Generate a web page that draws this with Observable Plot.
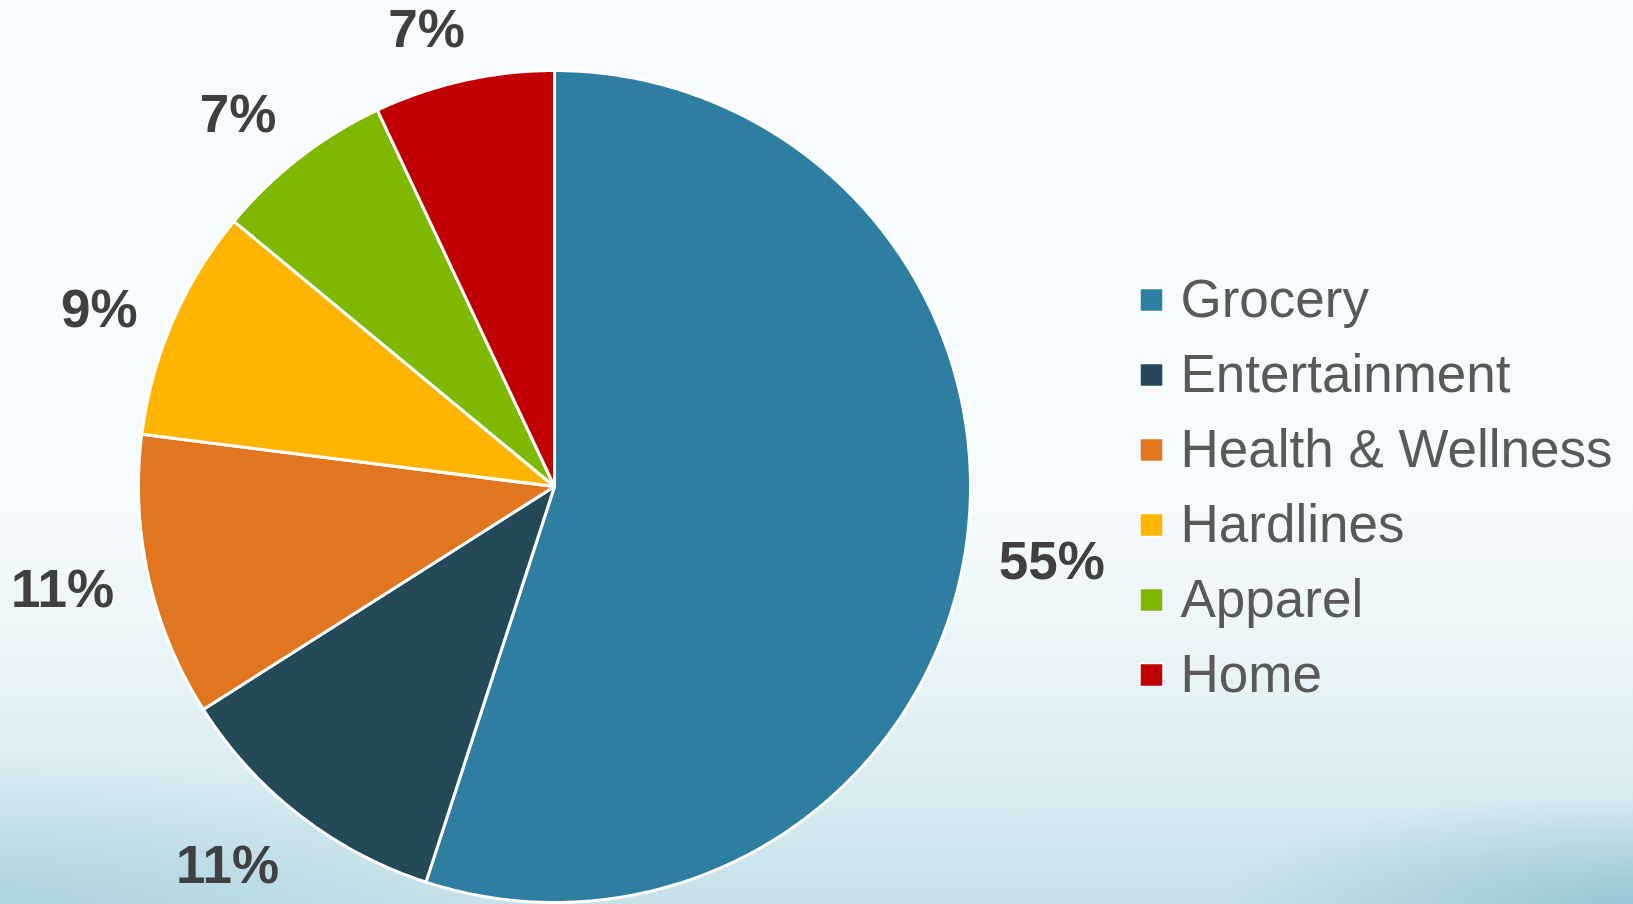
<!DOCTYPE html>
<html>
<head>
<meta charset="utf-8">
<script src="https://cdn.jsdelivr.net/npm/d3@7"></script>
<script src="https://cdn.jsdelivr.net/npm/@observablehq/plot@0.6"></script>
<style>
  html, body { margin: 0; padding: 0; }
  body {
    width: 1633px; height: 904px; overflow: hidden;
    background:
      radial-gradient(ellipse 420px 110px at 1633px 904px, rgba(120,180,200,0.6), rgba(120,180,200,0) 100%),
      radial-gradient(ellipse 500px 150px at 0px 904px, rgba(150,200,215,0.55), rgba(150,200,215,0) 100%),
      linear-gradient(to bottom, #f9fcfe 0%, #f6fbfd 55%, #ebf5f9 72%, #d8ebf1 88%, #c6e1e9 100%);
  }
  #chart { position: absolute; left: 0; top: 0; }
</style>
</head>
<body>
<div id="chart"></div>
<script>
// ---- data ----
const categories = ["Grocery", "Entertainment", "Health & Wellness", "Hardlines", "Apparel", "Home"];
const shares = [55, 11, 11, 9, 7, 7];
const colors = ["#2e7ea1", "#244a5a", "#e2751f", "#ffb400", "#7fb800", "#c00000"];

// ---- layout ----
const W = 1633, H = 904;
const cx = 554, cy = 486, R = 416;
const labelGap = 39, labelW = {2: 75, 3: 96}, labelHalfH = 16, labelShiftY = 4;
const legendX = 1151, legendY0 = 299.5, legendStep = 75, legendTextX = 1180;

const total = d3.sum(shares);
const ends = d3.cumsum(shares);
const slices = categories.map((c, i) => {
  const a0 = (ends[i] - shares[i]) / total * 2 * Math.PI;
  const a1 = ends[i] / total * 2 * Math.PI;
  return {category: c, value: shares[i], a0, a1, mid: (a0 + a1) / 2, i};
});

// polygon points for each slice (center + arc)
const piePts = [];
for (const s of slices) {
  piePts.push({category: s.category, x: cx, y: cy});
  const n = Math.max(2, Math.ceil((s.a1 - s.a0) / (Math.PI / 360)));
  for (let k = 0; k <= n; k++) {
    const a = s.a0 + (s.a1 - s.a0) * k / n;
    piePts.push({category: s.category, x: cx + R * Math.sin(a), y: cy - R * Math.cos(a)});
  }
}

// outside-end label placement: anchor just outside the rim, box pushed outward
const clamp = (v, lo, hi) => Math.max(lo, Math.min(hi, v));
const labels = slices.map(s => {
  const text = s.value + "%";
  const dx = Math.sin(s.mid), dy = -Math.cos(s.mid);
  const w = labelW[text.length] || 100;
  const ox = (w / 2) * clamp(3.5 * dx, -1, 1);
  const oy = labelHalfH * Math.sign(dy) * clamp((Math.abs(dy) - 0.4) / 0.4, 0, 1);
  return {
    text,
    x: cx + (R + labelGap) * dx + ox,
    y: cy + (R + labelGap) * dy + oy + labelShiftY
  };
});

const legend = slices.map(s => ({category: s.category, y: legendY0 + s.i * legendStep}));

const plot = Plot.plot({
  width: W, height: H,
  margin: 0,
  x: {domain: [0, W], range: [0, W], axis: null},
  y: {domain: [0, H], range: [0, H], axis: null},
  color: {domain: categories, range: colors, legend: false},
  style: {background: "transparent", fontFamily: "'Liberation Sans', Arial, Helvetica, sans-serif", overflow: "visible"},
  marks: [
    Plot.line(piePts, {x: "x", y: "y", z: "category", fill: "category", stroke: "white", strokeWidth: 3, strokeLinejoin: "round", curve: "linear-closed"}),
    Plot.text(labels, {x: "x", y: "y", text: "text", fontSize: 53, fontWeight: "bold", fill: "#404040", textAnchor: "middle", lineAnchor: "middle"}),
    Plot.dot(legend, {x: () => legendX, y: "y", symbol: "square", r: 13, fill: "category", stroke: "white", strokeWidth: 1.5}),
    Plot.text(legend, {x: () => legendTextX, y: "y", text: "category", fontSize: 53, fill: "#595959", textAnchor: "start", lineAnchor: "middle"})
  ]
});
document.getElementById("chart").appendChild(plot);
</script>
</body>
</html>
